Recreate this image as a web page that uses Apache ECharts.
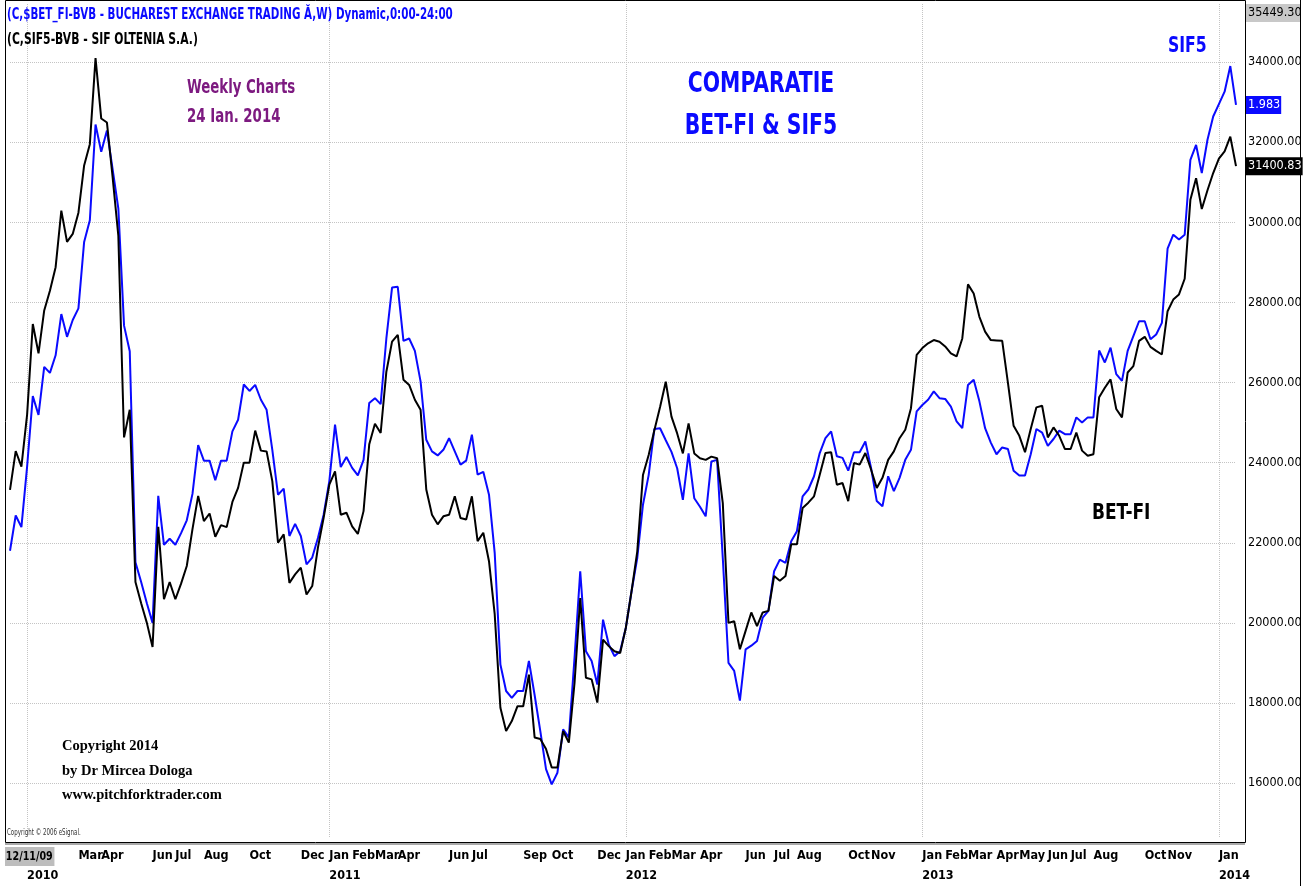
<!DOCTYPE html>
<html>
<head>
<meta charset="utf-8">
<script src="https://cdn.jsdelivr.net/npm/echarts@6/dist/echarts.min.js"></script>
<style>
html, body { margin: 0; padding: 0; background: #fff; }
#chart { width: 1314px; height: 886px; }
</style>
</head>
<body>
<div id="chart"></div>
<script>
// weekly closes, first week 12/11/09
var startWeek = '2009-12-11';

// BET-FI index, weekly close
var betfi = [
	23320, 24290, 23900, 25200, 27460, 26730, 27800, 28290, 28880, 30290,
	29510, 29710, 30240, 31420, 31950, 34100, 32590, 32490, 31120, 29660,
	24630, 25320, 21020, 20490, 20000, 19400, 22400, 20590, 21020, 20590,
	20980, 21420, 22340, 23170, 22540, 22730, 22150, 22440, 22390, 23020,
	23370, 24000, 24000, 24800, 24300, 24280, 23540, 22000, 22210, 21000,
	21210, 21380, 20710, 20920, 21880, 22620, 23450, 23780, 22700, 22750,
	22410, 22220, 22790, 24460, 24970, 24740, 26270, 27020, 27190, 26070,
	25940, 25570, 25320, 23330, 22700, 22460, 22660, 22700, 23160, 22620,
	22580, 23160, 22040, 22250, 21540, 20220, 17880, 17300, 17550, 17920,
	17920, 18710, 17140, 17100, 16850, 16390, 16390, 17300, 17010, 18500,
	20620, 18630, 18590, 18010, 19580, 19420, 19290, 19250, 19880, 20790,
	21780, 23690, 24190, 24810, 25390, 26020, 25150, 24730, 24230, 24980,
	24230, 24110, 24070, 24150, 24110, 22990, 20000, 20040, 19340, 19800,
	20260, 19920, 20260, 20300, 21170, 21050, 21170, 21960, 21960, 22870,
	23000, 23160, 23700, 24240, 24260, 23450, 23490, 23040, 23990, 23950,
	24240, 23830, 23370, 23620, 24070, 24280, 24610, 24820, 25360, 26690,
	26860, 26980, 27060, 27020, 26900, 26730, 26650, 27100, 28450, 28220,
	27640, 27270, 27060, 27050, 27040, 26000, 24920, 24670, 24260, 24840,
	25380, 25420, 24630, 24880, 24670, 24340, 24340, 24750, 24300, 24170,
	24210, 25630, 25870, 26080, 25340, 25130, 26250, 26410, 27040, 27140,
	26890, 26790, 26700, 27780, 28070, 28200, 28590, 30560, 31100, 30330,
	30800, 31230, 31590, 31770, 32140, 31400.83
];

// SIF5 overlaid on the BET-FI scale
var sif5 = [
	21800, 22680, 22390, 23900, 25660, 25190, 26390, 26240, 26680, 27710,
	27140, 27560, 27850, 29510, 30050, 32440, 31760, 32290, 31320, 30340,
	27420, 26780, 21510, 21020, 20490, 20000, 23170, 21950, 22100, 21950,
	22240, 22560, 23220, 24440, 24050, 24050, 23560, 24050, 24050, 24780,
	25070, 25950, 25790, 25940, 25570, 25320, 24320, 23200, 23350, 22170,
	22470, 22170, 21460, 21630, 22120, 22700, 23540, 24950, 23890, 24140,
	23870, 23680, 24070, 25490, 25610, 25460, 27100, 28370, 28390, 27040,
	27100, 26790, 26030, 24570, 24280, 24180, 24320, 24610, 24280, 23950,
	24050, 24700, 23700, 23770, 23200, 21750, 18960, 18300, 18130, 18300,
	18300, 19050, 18200, 17300, 16350, 15970, 16260, 17340, 17140, 19130,
	21290, 19290, 19050, 18460, 20080, 19460, 19170, 19290, 19880, 20790,
	21620, 22950, 23690, 24840, 24860, 24560, 24270, 23860, 23070, 24230,
	23110, 22900, 22660, 24030, 24070, 21620, 19000, 18800, 18060, 19340,
	19430, 19550, 20130, 20300, 21290, 21580, 21500, 22040, 22290, 23160,
	23330, 23660, 24240, 24610, 24780, 24160, 24120, 23800, 24260, 24260,
	24530, 23870, 23040, 22910, 23660, 23290, 23620, 24070, 24320, 25280,
	25440, 25570, 25780, 25610, 25590, 25400, 25030, 24860, 25940, 26070,
	25530, 24860, 24500, 24210, 24380, 24340, 23800, 23680, 23680, 24210,
	24840, 24750, 24420, 24590, 24800, 24710, 24710, 25130, 25000, 25130,
	25130, 26800, 26500, 26870, 26210, 26040, 26790, 27160, 27530, 27530,
	27080, 27200, 27490, 29340, 29690, 29570, 29690, 31560, 31930, 31230,
	32060, 32640, 32950, 33260, 33900, 32930
];
var sifLastPrice = '1.983';

// months that carry a label on the time axis
var shownMonths = [
	'2010-01', '2010-02', '2010-03', '2010-04', '2010-06', '2010-07', '2010-08', '2010-10', '2010-12',
	'2011-01', '2011-02', '2011-03', '2011-04', '2011-06', '2011-07', '2011-09', '2011-10', '2011-12',
	'2012-01', '2012-02', '2012-03', '2012-04', '2012-06', '2012-07', '2012-08', '2012-10', '2012-11',
	'2013-01', '2013-02', '2013-03', '2013-04', '2013-05', '2013-06', '2013-07', '2013-08', '2013-10', '2013-11',
	'2014-01'
];
var monthNames = ['Jan', 'Feb', 'Mar', 'Apr', 'May', 'Jun', 'Jul', 'Aug', 'Sep', 'Oct', 'Nov', 'Dec'];
var yTicks = [16000, 18000, 20000, 22000, 24000, 26000, 28000, 30000, 32000, 34000];
var yMin = 14630, yMax = 35449.30;

var narrow = "'DejaVu Sans Condensed', 'Arial Narrow', sans-serif";

// week dates and label lookup
var weeks = [];
var d = new Date(startWeek + 'T00:00:00Z');
for (var i = 0; i < betfi.length; i++) {
	weeks.push(d.toISOString().slice(0, 10));
	d.setUTCDate(d.getUTCDate() + 7);
}
var labelMap = {}, yearStarts = {};
for (var i = 1; i < weeks.length; i++) {
	var key = weeks[i].slice(0, 7);
	if (key === weeks[i - 1].slice(0, 7)) continue;
	var m = parseInt(key.slice(5, 7), 10);
	if (m === 1) yearStarts[i] = true;
	if (shownMonths.indexOf(key) < 0) continue;
	labelMap[i] = monthNames[m - 1] + (m === 1 ? '\n' + key.slice(0, 4) : '');
}

var chart = echarts.init(document.getElementById('chart'));
var option = {
	animation: false,
	backgroundColor: '#fff',
	grid: { left: 10, right: 78, top: 4, bottom: 44 },
	xAxis: {
		type: 'category',
		data: weeks,
		boundaryGap: false,
		axisLine: { show: false },
		axisTick: { show: false },
		axisLabel: {
			interval: function (index) { return labelMap[index] !== undefined; },
			formatter: function (value, index) { return labelMap[index] || ''; },
			showMinLabel: true,
			align: 'left',
			margin: 8,
			color: '#000',
			fontFamily: narrow,
			fontWeight: 'bold',
			fontSize: 12.5,
			lineHeight: 20
		},
		splitLine: {
			show: true,
			interval: function (index) { return yearStarts[index] === true; },
			lineStyle: { color: '#c4c4c4', type: 'dotted', width: 1 }
		}
	},
	yAxis: {
		type: 'value',
		position: 'right',
		min: yMin,
		max: yMax,
		axisLine: { show: false },
		axisTick: { show: false, customValues: yTicks },
		axisLabel: {
			customValues: yTicks,
			formatter: function (v) { return v.toFixed(2); },
			margin: 12,
			color: '#000',
			fontFamily: narrow,
			fontSize: 12.5
		},
		splitLine: {
			show: true,
			lineStyle: { color: '#c4c4c4', type: 'dotted', width: 1 }
		}
	},
	series: [
		{
			name: 'SIF5',
			type: 'line',
			data: sif5,
			symbol: 'none',
			lineStyle: { color: '#0a0aff', width: 2 },
			itemStyle: { color: '#0a0aff' }
		},
		{
			name: 'BET-FI',
			type: 'line',
			data: betfi,
			symbol: 'none',
			lineStyle: { color: '#000', width: 2 },
			itemStyle: { color: '#000' }
		}
	]
};
chart.setOption(option);

// value boxes on the price axis and the notes
var last = betfi.length - 1;
var yBet = chart.convertToPixel({ yAxisIndex: 0 }, betfi[last]);
var ySif = chart.convertToPixel({ yAxisIndex: 0 }, sif5[last]);
var yTop = chart.convertToPixel({ yAxisIndex: 0 }, yMax);
var xFirst = chart.convertToPixel({ xAxisIndex: 0 }, weeks[0]);

function box(x, yc, txt, bg, fg, w) {
	return {
		type: 'text', x: x, y: yc, z: 100,
		style: {
			text: txt, fill: fg, backgroundColor: bg, fontFamily: narrow, fontSize: 12.5,
			verticalAlign: 'middle', width: w, padding: [3, 1, 2, 2]
		}
	};
}
function note(x, y, txt, color, size, sx, align) {
	return {
		type: 'text', x: x, y: y, z: 50, scaleX: sx,
		style: {
			text: txt, fill: color, fontSize: size, fontWeight: 'bold',
			fontFamily: narrow, align: align || 'left', lineHeight: size * 1.5
		}
	};
}

chart.setOption({
	graphic: [
		{ type: 'rect', shape: { x: 5.5, y: 0.5, width: 1240, height: 842 }, z: 40,
			style: { fill: 'none', stroke: '#000', lineWidth: 1 } },
		{ type: 'line', shape: { x1: 1300.5, y1: 0, x2: 1300.5, y2: 886 }, z: 40,
			style: { stroke: '#000', lineWidth: 1 } },
		{ type: 'line', shape: { x1: 5, y1: 844, x2: 1245, y2: 844 }, z: 40,
			style: { stroke: '#555', lineWidth: 1 } },
		box(1246, yTop + 9, '35449.30', '#c8c8c8', '#000', 51),
		box(1246, ySif, sifLastPrice, '#0a0aff', '#fff'),
		box(1246, yBet, betfi[last].toFixed(2), '#000', '#fff'),
		{ type: 'text', x: xFirst - 5, y: 847, z: 100, scaleX: 0.85,
			style: { text: '12/11/09', fill: '#000', backgroundColor: '#bdbdbd', fontFamily: narrow,
				fontWeight: 'bold', fontSize: 12.5, padding: [3, 2, 3, 1] } },
		note(7, 4, '(C,$BET_FI-BVB - BUCHAREST EXCHANGE TRADING Ă,W) Dynamic,0:00-24:00', '#0a0aff', 15, 0.766),
		note(7, 29, '(C,SIF5-BVB - SIF OLTENIA S.A.)', '#000', 15, 0.8),
		note(187, 74, 'Weekly Charts\n24 Ian. 2014', '#7d1a80', 19, 0.78),
		note(761, 64, 'COMPARATIE\nBET-FI & SIF5', '#0a0aff', 28, 0.81, 'center'),
		note(1168, 31, 'SIF5', '#0a0aff', 21, 0.83),
		note(1092, 498, 'BET-FI', '#000', 21, 0.9),
		{ type: 'text', x: 62, y: 734, z: 50,
			style: { text: 'Copyright 2014\nby Dr Mircea Dologa\nwww.pitchforktrader.com', fill: '#000',
				fontFamily: "'Liberation Serif', 'Times New Roman', serif", fontWeight: 'bold',
				fontSize: 14.5, lineHeight: 24.5 } },
		{ type: 'text', x: 7, y: 828, z: 50, scaleX: 0.72,
			style: { text: 'Copyright © 2006 eSignal.', fill: '#333', fontFamily: narrow, fontSize: 8.5 } }
	]
});
</script>
</body>
</html>
